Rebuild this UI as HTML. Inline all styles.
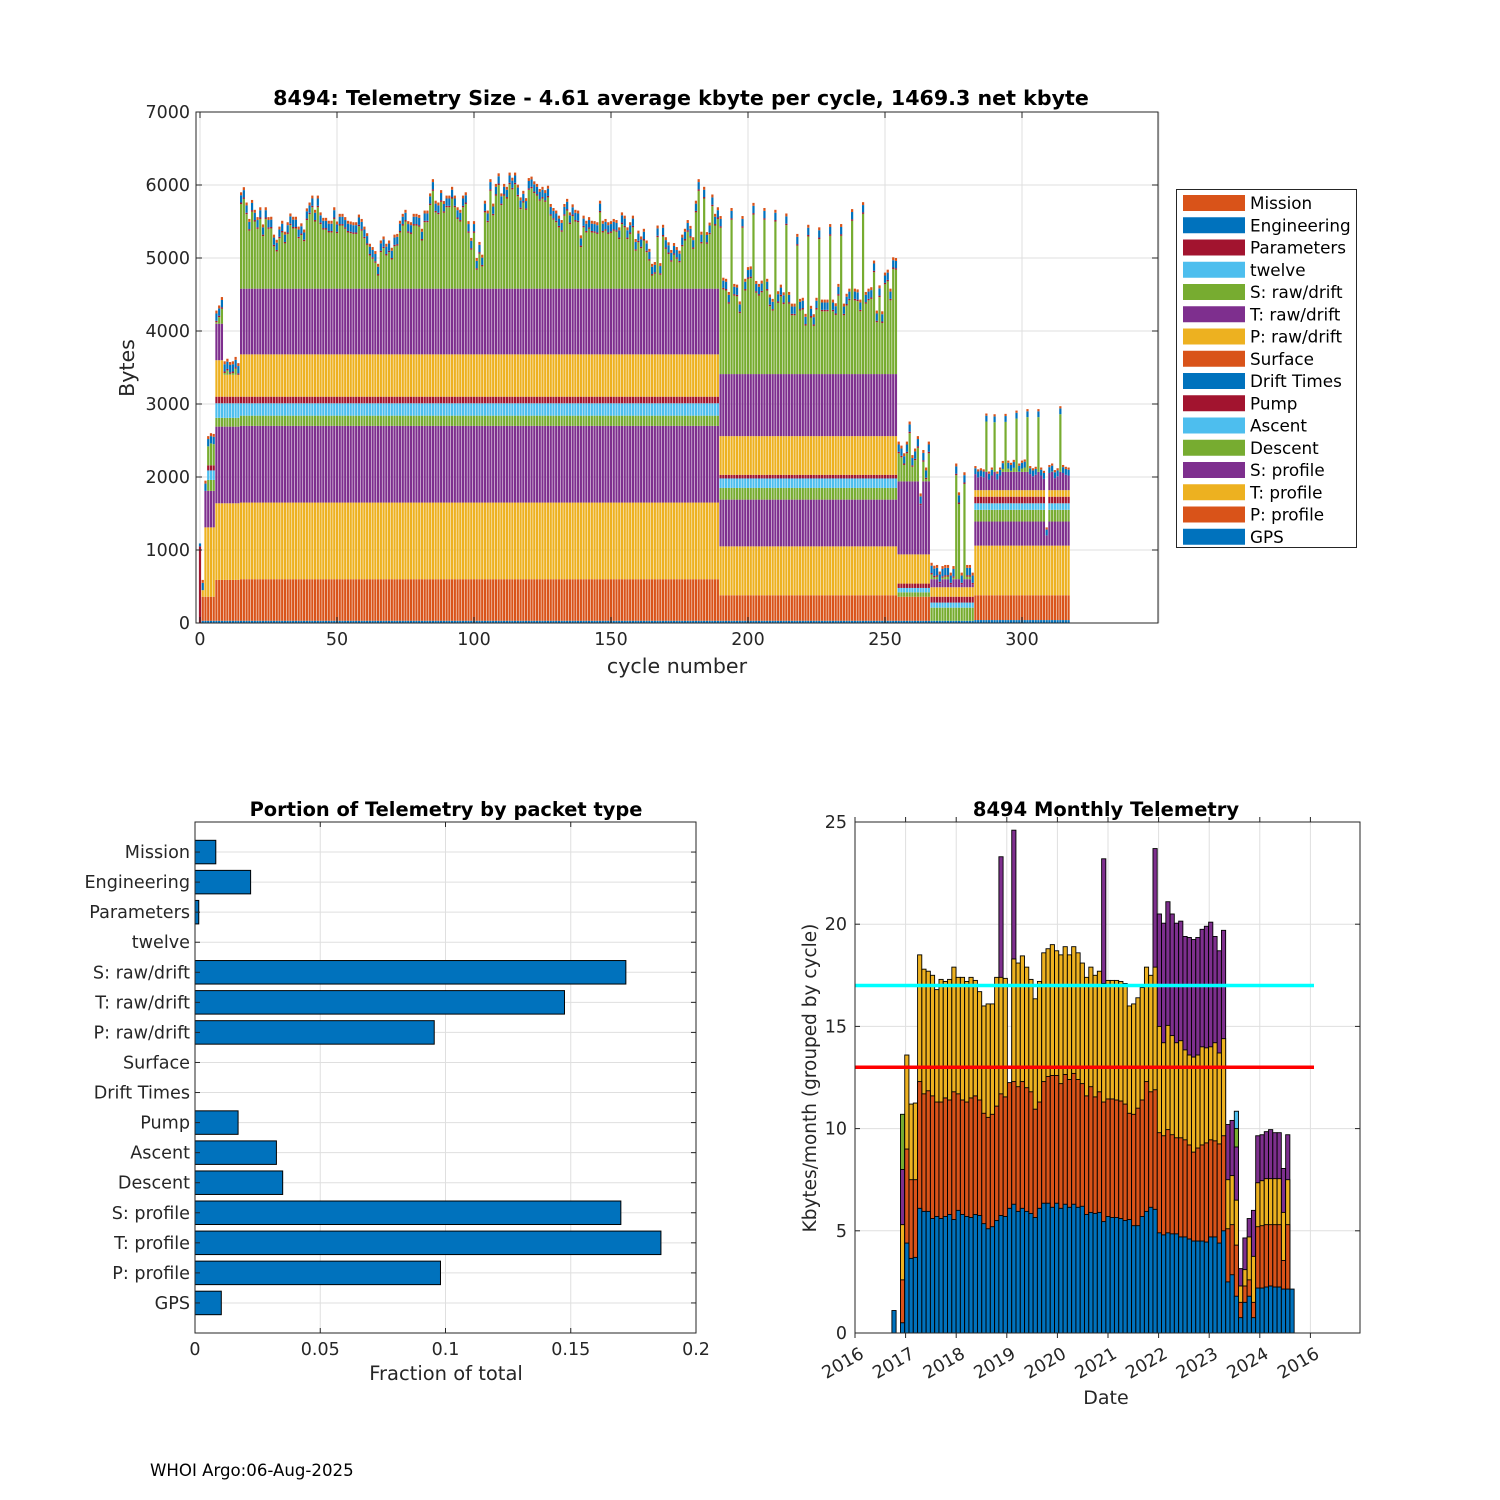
<!DOCTYPE html>
<html><head><meta charset="utf-8"><title>8494 Telemetry</title>
<style>
html,body{margin:0;padding:0;background:#fff;}
svg{display:block;font-family:"DejaVu Sans","Liberation Sans",sans-serif;}
</style></head>
<body>
<svg id="fig" width="1500" height="1500" viewBox="0 0 1500 1500" xmlns="http://www.w3.org/2000/svg">
<rect x="0" y="0" width="1500" height="1500" fill="#fff"/>
<g id="top"></g>
<g id="bl"></g>
<g id="br"></g>
<text x="150" y="1476" font-size="16.6" fill="#000">WHOI Argo:06-Aug-2025</text>
</svg>
<script>
// ===== Top chart data =====
const compNames = ["GPS","P: profile","T: profile","S: profile","Descent","Ascent","Pump","Drift Times","Surface","P: raw/drift","T: raw/drift","S: raw/drift","twelve","Parameters","Engineering","Mission"];
const compColors = ["#0072BD","#D95319","#EDB120","#7E2F8E","#77AC30","#4DBEEE","#A2142F","#0072BD","#D95319","#EDB120","#7E2F8E","#77AC30","#4DBEEE","#A2142F","#0072BD","#D95319"];
const phaseStart = [0,1,6,9,15,190,255,267,283];
const phase0 = [0,0,0,0,0,0,0,0,0,0,0,0,0,1050,40,0];
const phase1 = [30,330,950,500,150,130,70,0,0,0,0,0,0,0,100,40];
const phase2 = [30,560,1050,1050,120,200,90,0,0,500,500,0,0,20,100,40];
const phase3 = [30,560,1050,1050,120,200,90,0,0,300,0,0,0,20,100,40];
const phase4 = [30,570,1050,1050,140,170,90,0,0,580,900,0,0,20,100,40];
const phase5 = [30,350,670,640,160,130,50,0,0,530,850,0,0,20,100,40];
const phase6 = [30,330,0,0,60,60,60,0,0,400,1000,0,0,20,100,40];
const phase7 = [30,0,0,0,180,70,80,0,0,130,110,0,0,20,100,40];
const phase8 = [40,340,680,330,160,90,90,0,0,90,250,0,0,0,80,30];
const cycleTotal = [1090,
590,1950,2560,2600,2590,4280,4350,4465,3585,3620,3575,3585,3645,3560,
5900,5970,5760,5535,5795,5660,5560,5695,5460,5695,5560,5565,5320,5250,5430,5510,5360,5490,5610,5565,
5565,5430,5475,5390,5680,5760,5855,5660,5855,5625,5550,5550,5510,5510,5695,5500,5605,5605,5560,5510,
5500,5490,5490,5595,5535,5430,5340,5195,5150,5095,4920,5240,5295,5195,5240,5140,5320,5330,5510,5605,
5660,5505,5490,5605,5605,5590,5400,5650,5650,
5885,6080,5785,5760,5930,5780,5855,5855,5975,5855,5695,5660,5855,5900,5505,5275,5505,5000,5220,5045,
5785,5650,6080,5745,6015,6160,5885,6015,5975,6170,6100,6170,6005,5830,5920,5820,6095,6115,6050,6015,
5945,5975,5930,5990,5740,5685,5650,5580,5520,5740,5810,5625,5735,5660,5650,5310,5580,5510,5560,5510,
5505,5490,5785,5510,5535,5490,5505,5535,5520,5420,5625,5580,5420,5490,5580,5260,5375,5295,5400,5240,
5125,4920,4945,5445,
4930,5455,5285,5215,5110,5205,5150,5100,5320,5400,5520,5440,5285,5785,6080,5360,5975,5355,5485,5870,
5605,5695,5575,4730,4715,4535,5685,4645,4635,4405,5575,4715,4875,4885,5755,4685,4645,4690,5685,4715,
4500,4440,5660,4545,4635,4530,5610,4535,4375,4375,5330,4440,4455,4235,5455,4345,4230,4455,5420,4430,
4430,4430,5465,4430,4380,4645,5465,4375,4510,4580,5670,4580,4570,4430,5765,4535,4580,4600,4965,4280,
4625,4270,4800,4840,4580,5010,5000,
2485,2430,2325,2485,2760,2300,2390,2560,1775,2370,2130,2485,825,785,795,705,780,795,795,690,
780,2185,1790,690,2065,795,795,690,2150,2105,2120,2105,2870,2075,2130,2860,2075,2130,2220,2865,
2225,2195,2235,2910,2185,2225,2240,2930,2150,2120,2140,2930,2130,2085,1310,2165,2185,2095,2120,2970,
2165,2140,2130];
const topXTicks = [0,50,100,150,200,250,300];
const topYTicks = [0,1000,2000,3000,4000,5000,6000,7000];
const legendOrder = [15,14,13,12,11,10,9,8,7,6,5,4,3,2,1,0];

// ===== Bottom-left data =====
const pktCategories = ["GPS","P: profile","T: profile","S: profile","Descent","Ascent","Pump","Drift Times","Surface","P: raw/drift","T: raw/drift","S: raw/drift","twelve","Parameters","Engineering","Mission"];
const pktFraction = [0.0105,0.098,0.186,0.170,0.035,0.0325,0.0172,0,0,0.0955,0.1475,0.172,0,0.0015,0.0222,0.0083];
const fracTicks = [0,0.05,0.1,0.15,0.2];
const fracTickLabels = ["0","0.05","0.1","0.15","0.2"];

// ===== Bottom-right data (cumulative stacked levels, kbytes) =====
const monthIndex = [9,11,12,13,14,15,16,17,18,19,20,21,22,23,24,25,26,27,28,29,30,31,32,33,34,35,36,37,38,39,40,41,42,43,44,45,46,47,48,49,50,
51,52,53,54,55,56,57,58,59,60,61,62,63,64,65,66,67,68,69,70,71,72,73,74,75,76,77,78,79,80,81,82,83,84,85,86,87,88,89,90,91,92,93,94,95,96,97,98,99,100,101,102];
const levelBlue = [1.1,0.5,4.4,3.65,3.7,6.1,5.95,5.95,5.6,5.7,5.6,5.7,5.8,5.55,6.0,5.8,5.7,5.65,5.8,5.75,5.35,5.1,5.2,5.5,5.75,5.7,6.1,6.3,5.95,6.1,5.95,5.85,5.65,6.1,6.35,6.35,6.15,6.35,6.1,6.3,6.15,
6.3,6.15,6.2,5.8,5.9,5.85,5.9,5.45,5.7,5.65,5.65,5.6,5.5,5.55,5.25,5.25,5.7,5.95,6.15,6.05,4.9,4.8,4.9,4.85,4.85,4.7,4.7,4.6,4.5,4.5,4.5,4.45,4.7,4.7,4.4,5.0,2.5,2.85,1.8,0.75,1.5,1.8,0.75,2.2,2.2,2.25,2.3,2.25,2.25,2.15,2.15,2.15];
const levelOrange = [0,2.6,9.0,7.5,7.5,12.3,11.7,11.85,11.6,11.3,11.3,11.5,11.4,11.8,11.7,11.4,11.3,11.5,11.6,11.4,10.75,10.55,10.7,11.1,11.7,11.55,12.25,12.3,12.05,12.3,12.0,11.8,10.95,11.3,12.3,12.55,12.6,12.6,12.2,12.65,12.4,
12.7,12.4,12.2,11.6,12.05,11.55,11.8,11.3,11.45,11.45,11.4,11.35,11.2,10.75,10.7,11.0,11.4,12.3,11.8,11.9,9.8,9.65,9.95,9.7,9.55,9.55,9.45,9.2,8.85,9.05,9.2,9.3,9.45,9.4,9.25,9.65,5.1,5.3,4.3,1.5,2.3,2.6,1.5,5.2,5.25,5.3,5.3,5.3,5.3,3.55,5.3,0];
const levelYellow = [0,5.3,13.6,11.2,11.25,18.5,17.8,17.7,17.5,16.8,17.3,17.2,17.3,17.9,17.4,17.4,17.2,17.4,17.25,16.7,16.0,16.1,16.1,17.4,17.4,17.35,0,18.3,18.1,18.45,17.9,17.3,16.35,17.2,18.6,18.8,19.0,18.7,18.5,18.9,18.5,
18.9,18.6,18.1,17.4,17.9,17.5,17.7,17.1,17.25,17.25,17.25,17.2,17.1,16.0,16.1,16.4,16.9,17.9,17.5,17.9,15.0,14.2,15.05,14.55,14.2,14.3,13.85,13.6,13.5,13.6,14.0,13.95,14.0,14.2,13.7,14.4,7.5,7.7,6.5,2.3,3.1,4.7,3.75,7.35,7.45,7.55,7.55,7.55,7.55,5.9,7.5,0];
const levelPurple = [0,8.0,0,0,0,0,0,0,0,0,0,0,0,0,0,0,0,0,0,0,0,0,0,0,23.3,0,0,24.6,0,0,0,0,0,0,0,0,0,0,0,0,0,
0,0,0,0,0,0,0,23.2,0,0,0,0,0,0,0,0,0,0,0,23.7,20.5,20.05,21.1,20.5,20.05,20.15,19.4,19.35,19.25,19.35,19.75,19.9,20.1,19.4,18.7,19.7,10.2,10.4,9.1,3.15,4.65,5.6,6.0,9.65,9.7,9.85,9.95,9.8,9.8,8.05,9.7,0];
const levelGreen = [0,10.7,0,0,0,0,0,0,0,0,0,0,0,0,0,0,0,0,0,0,0,0,0,0,0,0,0,0,0,0,0,0,0,0,0,0,0,0,0,0,0,
0,0,0,0,0,0,0,0,0,0,0,0,0,0,0,0,0,0,0,0,0,0,0,0,0,0,0,0,0,0,0,0,0,0,0,0,0,0,10.0,0,0,0,0,0,0,0,0,0,0,0,0,0];
const levelCyan = [0,0,0,0,0,0,0,0,0,0,0,0,0,0,0,0,0,0,0,0,0,0,0,0,0,0,0,0,0,0,0,0,0,0,0,0,0,0,0,0,0,
0,0,0,0,0,0,0,0,0,0,0,0,0,0,0,0,0,0,0,0,0,0,0,0,0,0,0,0,0,0,0,0,0,0,0,0,0,0,10.85,0,0,0,0,0,0,0,0,0,0,0,0,0];
const dateTickLabels = ["2016","2017","2018","2019","2020","2021","2022","2023","2024","2016"];
const monthlyYTicks = [0,5,10,15,20,25];
const refLineCyan = 17;
const refLineRed = 13;

// ===== helpers =====
const NS = "http://www.w3.org/2000/svg";
function mk(parent, tag, attrs, txt){
  const e = document.createElementNS(NS, tag);
  for (const k in attrs) e.setAttribute(k, attrs[k]);
  if (txt !== undefined) e.textContent = txt;
  parent.appendChild(e);
  return e;
}
const AX = "#262626", GRID = "#dfdfdf";

// ===== Top chart =====
(function(){
  const g = document.getElementById('top');
  const L=196,R=1158,T=112,B=623;
  const xs = c => 200 + c*(1022-200)/300;
  const ys = v => B - v*(B-T)/7000;
  let e;
  e = mk(g,'rect',{x:L,y:T,width:R-L,height:B-T,fill:'#fff'});
  
  
  topXTicks.forEach(t=>{ e=mk(g,'line',{x1:xs(t),x2:xs(t),y1:T,y2:B,stroke:GRID,'stroke-width':1});
      });
  mk(g,'line',{x1:xs(350),x2:xs(350),y1:T,y2:B,stroke:GRID,'stroke-width':1});
  topYTicks.forEach(t=>{ e=mk(g,'line',{x1:L,x2:R,y1:ys(t),y2:ys(t),stroke:GRID,'stroke-width':1});
      });
  const phases=[phase0,phase1,phase2,phase3,phase4,phase5,phase6,phase7,phase8];
  const bw = 2.2;
  for (let c=0;c<cycleTotal.length;c++){
    let p=0; for(let i=0;i<phaseStart.length;i++) if(c>=phaseStart[i]) p=i;
    const comp = phases[p].slice();
    let fixed=0; comp.forEach((v,i)=>{ if(i!==11) fixed+=v; });
    let rem = cycleTotal[c]-fixed;
    if (rem<0){ let d=-rem; rem=0; for(let i=10;i>=0&&d>0;i--){ const r=Math.min(comp[i],d); comp[i]-=r; d-=r; } }
    comp[11]=rem;
    let acc=0;
    const gc = mk(g,'g',{});
    
    
    comp.forEach((v,i)=>{
      if(v<=0) return;
      const y1=ys(acc+v), y0=ys(acc);
      e=mk(gc,'rect',{x:xs(c)-bw/2,y:y1,width:bw,height:y0-y1,fill:compColors[i]});
      
      
      acc+=v;
    });
  }
  e=mk(g,'rect',{x:L,y:T,width:R-L,height:B-T,fill:'none',stroke:AX,'stroke-width':1});
   
  topXTicks.forEach(t=>{
    mk(g,'line',{x1:xs(t),x2:xs(t),y1:B,y2:B-6,stroke:AX});
    mk(g,'line',{x1:xs(t),x2:xs(t),y1:T,y2:T+6,stroke:AX});
    e=mk(g,'text',{x:xs(t),y:B+22,'font-size':17.5,'text-anchor':'middle',fill:AX},String(t));
     
  });
  topYTicks.forEach(t=>{
    mk(g,'line',{x1:L,x2:L+6,y1:ys(t),y2:ys(t),stroke:AX});
    mk(g,'line',{x1:R,x2:R-6,y1:ys(t),y2:ys(t),stroke:AX});
    e=mk(g,'text',{x:L-6,y:ys(t)+6,'font-size':17.5,'text-anchor':'end',fill:AX},String(t));
     
  });
  e=mk(g,'text',{x:681,y:105,'font-size':20.6,'font-weight':'bold','text-anchor':'middle',fill:'#000'},'8494: Telemetry Size - 4.61 average kbyte per cycle, 1469.3 net kbyte');
   
  e=mk(g,'text',{x:677,y:673,'font-size':20.6,'text-anchor':'middle',fill:AX},'cycle number');
   
  e=mk(g,'text',{x:0,y:0,'font-size':20.6,'text-anchor':'middle',fill:AX,transform:'translate(134,368) rotate(-90)'},'Bytes');
   
  // legend
  const lg = mk(g,'g',{});
  
  
  e=mk(lg,'rect',{x:1176.5,y:189.5,width:180,height:358,fill:'#fff',stroke:AX,'stroke-width':1});
   
  legendOrder.forEach((ci,j)=>{
    const yy = 195 + j*22.25;
    e=mk(lg,'rect',{x:1183,y:yy,width:62,height:16,fill:compColors[ci]});
     
    e=mk(lg,'text',{x:1250,y:yy+14,'font-size':16.8,fill:'#000'},compNames[ci]);
     
  });
})();

// ===== Bottom-left chart =====
(function(){
  const g = document.getElementById('bl');
  const L=195,R=696,T=822,B=1333;
  const xs = v => L + v/0.2*(R-L);
  const ys = i => B - i*(B-T)/17;
  let e;
  fracTicks.forEach(t=>{ e=mk(g,'line',{x1:xs(t),x2:xs(t),y1:T,y2:B,stroke:GRID});
      });
  pktCategories.forEach((c,i)=>{ e=mk(g,'line',{x1:L,x2:R,y1:ys(i+1),y2:ys(i+1),stroke:GRID});
      });
  pktFraction.forEach((v,i)=>{
    const yc = ys(i+1), h=23.5;
    if (v>0){
      e=mk(g,'rect',{x:xs(0),y:yc-h/2,width:xs(v)-xs(0),height:h,fill:'#0072BD',stroke:'#000','stroke-width':1});
       
    }
  });
  e=mk(g,'rect',{x:L,y:T,width:R-L,height:B-T,fill:'none',stroke:AX});
   
  fracTicks.forEach((t,i)=>{
    mk(g,'line',{x1:xs(t),x2:xs(t),y1:B,y2:B-5,stroke:AX});
    mk(g,'line',{x1:xs(t),x2:xs(t),y1:T,y2:T+5,stroke:AX});
    e=mk(g,'text',{x:xs(t),y:B+22,'font-size':17.5,'text-anchor':'middle',fill:AX},fracTickLabels[i]);
     
  });
  pktCategories.forEach((c,i)=>{
    mk(g,'line',{x1:L,x2:L+5,y1:ys(i+1),y2:ys(i+1),stroke:AX});
    mk(g,'line',{x1:R,x2:R-5,y1:ys(i+1),y2:ys(i+1),stroke:AX});
    e=mk(g,'text',{x:L-5,y:ys(i+1)+6,'font-size':17.6,'text-anchor':'end',fill:AX},c);
     
  });
  e=mk(g,'text',{x:446,y:816,'font-size':19.4,'font-weight':'bold','text-anchor':'middle',fill:'#000'},'Portion of Telemetry by packet type');
   
  e=mk(g,'text',{x:446,y:1380,'font-size':19.5,'text-anchor':'middle',fill:AX},'Fraction of total');
   
})();

// ===== Bottom-right chart =====
(function(){
  const g = document.getElementById('br');
  const L=855,R=1360,T=822,B=1333;
  const xs = k => 894 + (k-9)*4.28;
  const ys = v => B - v*(B-T)/25;
  const tickX = i => 855 + i*50.6;
  let e;
  dateTickLabels.forEach((s,i)=>{ e=mk(g,'line',{x1:tickX(i),x2:tickX(i),y1:T,y2:B,stroke:GRID});
      });
  monthlyYTicks.forEach(t=>{ e=mk(g,'line',{x1:L,x2:R,y1:ys(t),y2:ys(t),stroke:GRID});
      });
  const layers = [[levelCyan,'#4DBEEE'],[levelGreen,'#77AC30'],[levelPurple,'#7E2F8E'],[levelYellow,'#EDB120'],[levelOrange,'#D95319'],[levelBlue,'#0072BD']];
  const bw = 4.2;
  layers.forEach(([arr,col])=>{
    arr.forEach((v,i)=>{
      if (!(v>0)) return;
      e=mk(g,'rect',{x:xs(monthIndex[i])-bw/2,y:ys(v),width:bw,height:ys(0)-ys(v),fill:col,stroke:'#000','stroke-width':0.9});
      
      
    });
  });
  e=mk(g,'line',{x1:L,x2:1314,y1:ys(refLineCyan),y2:ys(refLineCyan),stroke:'#00FFFF','stroke-width':3.5});
   
  e=mk(g,'line',{x1:L,x2:1314,y1:ys(refLineRed),y2:ys(refLineRed),stroke:'#FF0000','stroke-width':3.5});
   
  e=mk(g,'rect',{x:L,y:T,width:R-L,height:B-T,fill:'none',stroke:AX});
   
  dateTickLabels.forEach((s,i)=>{
    const x=tickX(i);
    mk(g,'line',{x1:x,x2:x,y1:B,y2:B+5,stroke:AX});
    mk(g,'line',{x1:x,x2:x,y1:T,y2:T-5,stroke:AX});
    e=mk(g,'text',{x:0,y:0,'font-size':17.5,'text-anchor':'end',fill:AX,transform:'translate('+(x+10)+','+(1357)+') rotate(-30)'},s);
     
  });
  monthlyYTicks.forEach(t=>{
    mk(g,'line',{x1:L,x2:L+5,y1:ys(t),y2:ys(t),stroke:AX});
    mk(g,'line',{x1:R,x2:R-5,y1:ys(t),y2:ys(t),stroke:AX});
    e=mk(g,'text',{x:L-8,y:ys(t)+6,'font-size':17.5,'text-anchor':'end',fill:AX},String(t));
     
  });
  e=mk(g,'text',{x:1106,y:816,'font-size':19.5,'font-weight':'bold','text-anchor':'middle',fill:'#000'},'8494 Monthly Telemetry');
   
  e=mk(g,'text',{x:1106,y:1404,'font-size':19,'text-anchor':'middle',fill:AX},'Date');
   
  e=mk(g,'text',{x:0,y:0,'font-size':18.5,'text-anchor':'middle',fill:AX,transform:'translate(816,1078) rotate(-90)'},'Kbytes/month (grouped by cycle)');
   
})();
</script>
</body></html>
